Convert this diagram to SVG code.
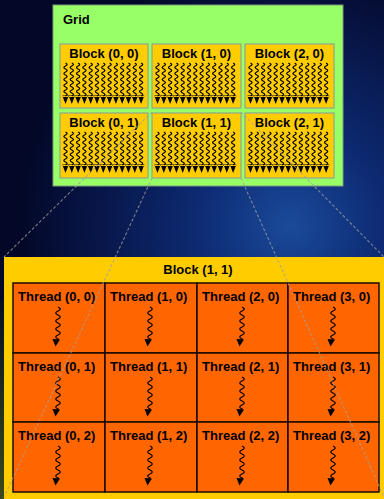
<svg xmlns="http://www.w3.org/2000/svg" xmlns:xlink="http://www.w3.org/1999/xlink" width="384" height="499" viewBox="0 0 384 499">
<defs>
<radialGradient id="bg" cx="290" cy="225" r="270" gradientUnits="userSpaceOnUse">
<stop offset="0" stop-color="#1a4a9a"/>
<stop offset="0.35" stop-color="#0d2a72"/>
<stop offset="0.75" stop-color="#071444"/>
<stop offset="1" stop-color="#030828"/>
</radialGradient>
<linearGradient id="lg" x1="0" y1="300" x2="0" y2="499" gradientUnits="userSpaceOnUse">
<stop offset="0" stop-color="#061020"/>
<stop offset="1" stop-color="#3a4a18"/>
</linearGradient>
<path id="bs" d="M0,19 q3.2,1.5 0,3 t0,3 t0,3 t0,3 t0,3 t0,3 t0,3 t0,3 t0,3 t0,3 t0,3" fill="none" stroke="#000" stroke-width="1.3"/>
<g id="bw">
<use xlink:href="#bs" x="5.5"/><use xlink:href="#bs" x="11.8"/><use xlink:href="#bs" x="18.1"/><use xlink:href="#bs" x="24.4"/><use xlink:href="#bs" x="30.7"/><use xlink:href="#bs" x="37"/><use xlink:href="#bs" x="43.3"/><use xlink:href="#bs" x="49.6"/><use xlink:href="#bs" x="55.9"/><use xlink:href="#bs" x="62.2"/><use xlink:href="#bs" x="68.5"/><use xlink:href="#bs" x="74.8"/><use xlink:href="#bs" x="81.1"/>
<path d="M2.4,51.5h81.8v1.5h-81.8z M2.4,52 l3.1,8 l3.1,-8z M8.7,52 l3.1,8 l3.1,-8z M15,52 l3.1,8 l3.1,-8z M21.3,52 l3.1,8 l3.1,-8z M27.6,52 l3.1,8 l3.1,-8z M33.9,52 l3.1,8 l3.1,-8z M40.2,52 l3.1,8 l3.1,-8z M46.5,52 l3.1,8 l3.1,-8z M52.8,52 l3.1,8 l3.1,-8z M59.1,52 l3.1,8 l3.1,-8z M65.4,52 l3.1,8 l3.1,-8z M71.7,52 l3.1,8 l3.1,-8z M78,52 l3.1,8 l3.1,-8z" fill="#000"/>
</g>
<g id="tw">
<path d="M0,0 q4.5,2 0,4 t0,4 t0,4 t0,4 t0,4 t0,4 t0,4 t0,4 l-1,1" fill="none" stroke="#000" stroke-width="1.3"/>
<polygon points="-5.5,32 2,32.5 -2.5,39.5" fill="#000"/>
</g>
</defs>
<style>
.lbl{font-family:"Liberation Sans",Arial,sans-serif;font-weight:bold;font-size:13px;fill:#000}
.blk{fill:#ffcc00;stroke:#8ea68e;stroke-width:1.2}
.cell{fill:#ff6600;stroke:#1a0a00;stroke-width:1.5}
.dash{fill:none;stroke:#a0a0a0;stroke-width:1.1;stroke-dasharray:3 2;opacity:0.75}
</style>
<rect x="0" y="0" width="384" height="499" fill="url(#bg)"/>
<rect x="0" y="300" width="6" height="199" fill="url(#lg)"/>

<g id="grid">
<rect x="53" y="5" width="290" height="181" fill="#99ff66" stroke="#7f9a7f" stroke-width="1"/>
<text class="lbl" x="63" y="24">Grid</text>
</g>
<g id="block00"><rect class="blk" x="60" y="44" width="88" height="64"/><text class="lbl" x="104" y="58" text-anchor="middle">Block (0, 0)</text><use xlink:href="#bw" x="60" y="44"/></g>
<g id="block10"><rect class="blk" x="152" y="44" width="89" height="64"/><text class="lbl" x="196.5" y="58" text-anchor="middle">Block (1, 0)</text><use xlink:href="#bw" x="152" y="44"/></g>
<g id="block20"><rect class="blk" x="245" y="44" width="89" height="64"/><text class="lbl" x="289.5" y="58" text-anchor="middle">Block (2, 0)</text><use xlink:href="#bw" x="245" y="44"/></g>
<g id="block01"><rect class="blk" x="60" y="113" width="88" height="65"/><text class="lbl" x="104" y="127" text-anchor="middle">Block (0, 1)</text><use xlink:href="#bw" x="60" y="113"/></g>
<g id="block11"><rect class="blk" x="152" y="113" width="89" height="65"/><text class="lbl" x="196.5" y="127" text-anchor="middle">Block (1, 1)</text><use xlink:href="#bw" x="152" y="113"/></g>
<g id="block21"><rect class="blk" x="245" y="113" width="89" height="65"/><text class="lbl" x="289.5" y="127" text-anchor="middle">Block (2, 1)</text><use xlink:href="#bw" x="245" y="113"/></g>

<g id="blockDetail">
<rect x="4" y="257" width="382" height="245" fill="#ffcc00"/>
<text class="lbl" x="198" y="274" text-anchor="middle">Block (1, 1)</text>
</g>

<g id="t00"><rect class="cell" x="13" y="283" width="92" height="70"/><text class="lbl" x="18" y="301">Thread (0, 0)</text><use xlink:href="#tw" x="58" y="307"/></g>
<g id="t10"><rect class="cell" x="105" y="283" width="92" height="70"/><text class="lbl" x="110" y="301">Thread (1, 0)</text><use xlink:href="#tw" x="150" y="307"/></g>
<g id="t20"><rect class="cell" x="197" y="283" width="91" height="70"/><text class="lbl" x="202" y="301">Thread (2, 0)</text><use xlink:href="#tw" x="242" y="307"/></g>
<g id="t30"><rect class="cell" x="288" y="283" width="91" height="70"/><text class="lbl" x="293" y="301">Thread (3, 0)</text><use xlink:href="#tw" x="333" y="307"/></g>
<g id="t01"><rect class="cell" x="13" y="353" width="92" height="69"/><text class="lbl" x="18" y="371">Thread (0, 1)</text><use xlink:href="#tw" x="58" y="377"/></g>
<g id="t11"><rect class="cell" x="105" y="353" width="92" height="69"/><text class="lbl" x="110" y="371">Thread (1, 1)</text><use xlink:href="#tw" x="150" y="377"/></g>
<g id="t21"><rect class="cell" x="197" y="353" width="91" height="69"/><text class="lbl" x="202" y="371">Thread (2, 1)</text><use xlink:href="#tw" x="242" y="377"/></g>
<g id="t31"><rect class="cell" x="288" y="353" width="91" height="69"/><text class="lbl" x="293" y="371">Thread (3, 1)</text><use xlink:href="#tw" x="333" y="377"/></g>
<g id="t02"><rect class="cell" x="13" y="422" width="92" height="70"/><text class="lbl" x="18" y="440">Thread (0, 2)</text><use xlink:href="#tw" x="58" y="446"/></g>
<g id="t12"><rect class="cell" x="105" y="422" width="92" height="70"/><text class="lbl" x="110" y="440">Thread (1, 2)</text><use xlink:href="#tw" x="150" y="446"/></g>
<g id="t22"><rect class="cell" x="197" y="422" width="91" height="70"/><text class="lbl" x="202" y="440">Thread (2, 2)</text><use xlink:href="#tw" x="242" y="446"/></g>
<g id="t32"><rect class="cell" x="288" y="422" width="91" height="70"/><text class="lbl" x="293" y="440">Thread (3, 2)</text><use xlink:href="#tw" x="333" y="446"/></g>

<g id="connectors">
<line class="dash" x1="152" y1="112" x2="4" y2="257"/>
<line class="dash" x1="241" y1="112" x2="384" y2="257"/>
<line class="dash" x1="152" y1="178" x2="4" y2="497"/>
<line class="dash" x1="241" y1="178" x2="384" y2="497"/>
</g>
</svg>
